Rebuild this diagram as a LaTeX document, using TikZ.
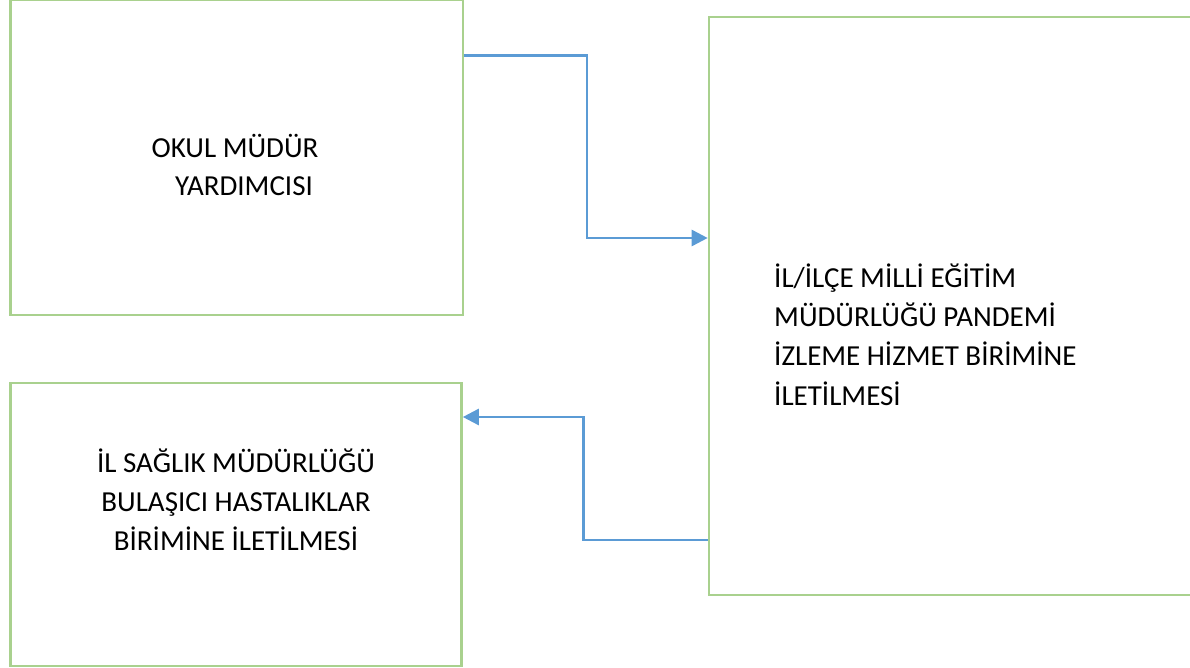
\documentclass[tikz,border=0pt]{standalone}
\usepackage{fontspec}
\setmainfont{Carlito}
\usetikzlibrary{arrows.meta}
\definecolor{boxgreen}{HTML}{A9D18E}
\definecolor{arrowblue}{HTML}{5B9BD5}
\begin{document}
\begin{tikzpicture}[x=1pt,y=-1pt,
  box/.style={draw=boxgreen,line width=2.6pt,rectangle,inner sep=0pt},
  conn/.style={draw=arrowblue,line width=2.6pt,-{Triangle[length=16pt,width=16pt]}},
  txt/.style={inner sep=0pt,font=\fontsize{29}{34}\selectfont}]
\useasboundingbox (0,0) rectangle (1190,668);
\node[box,minimum width=452.5pt,minimum height=315pt] (box1) at (236.75,157.5) {};
\node[box,minimum width=451pt,minimum height=283pt] (box2) at (236,524.5) {};
\node[box,minimum width=486pt,minimum height=578pt] (box3) at (952,306) {};
% box 1 text
\node[txt,anchor=base] (t11) at (235,158) {OKUL MÜDÜR};
\node[txt,anchor=base] (t12) at (244,196) {YARDIMCISI};
% box 2 text
\node[txt,anchor=base] (t21) at (236,472) {İL SAĞLIK MÜDÜRLÜĞÜ};
\node[txt,anchor=base] (t22) at (236,511) {BULAŞICI HASTALIKLAR};
\node[txt,anchor=base] (t23) at (236,550) {BİRİMİNE İLETİLMESİ};
% box 3 text
\node[txt,anchor=base west] (t31) at (774,287) {İL/İLÇE MİLLİ EĞİTİM};
\node[txt,anchor=base west] (t32) at (774,326) {MÜDÜRLÜĞÜ PANDEMİ};
\node[txt,anchor=base west] (t33) at (774,365) {İZLEME HİZMET BİRİMİNE};
\node[txt,anchor=base west] (t34) at (774,405) {İLETİLMESİ};
% connectors
\draw[conn] ([yshift=-57pt]box1.north east) -- ++(122.5,0) |- ([yshift=68pt]box3.west);
\draw[conn] ([yshift=-234pt]box3.west) -- ++(-124.5,0) |- ([yshift=107.5pt]box2.east);
\end{tikzpicture}
\end{document}
